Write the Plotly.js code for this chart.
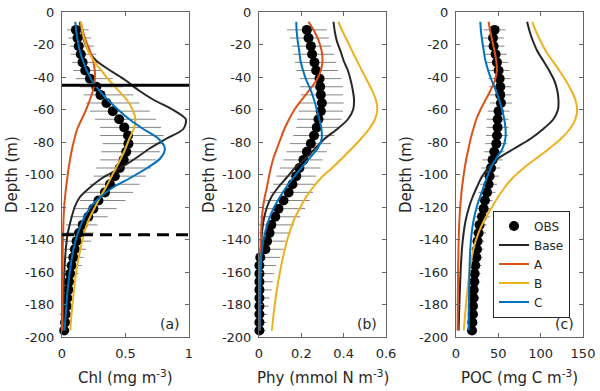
<!DOCTYPE html>
<html><head><meta charset="utf-8">
<script src="https://cdn.plot.ly/plotly-3.0.1.min.js"></script>
<style>html,body{margin:0;padding:0;background:#fff}#chart{width:600px;height:391px}</style>
</head><body><div id="chart"></div><script>
// ---------- data ----------
const obsDepth = [-11,-16,-21,-26,-31,-36,-41,-46,-51,-56,-61,-66,-71,-76,-81,-86,-91,-96,-101,-106,-111,-116,-121,-126,-131,-136,-141,-146,-151,-156,-161,-166,-171,-176,-181,-186,-191,-196];

const chlObs = [0.11,0.122,0.132,0.148,0.162,0.183,0.22,0.27,0.303,0.35,0.40,0.45,0.49,0.52,0.523,0.506,0.486,0.455,0.416,0.378,0.338,0.287,0.247,0.207,0.163,0.134,0.115,0.101,0.089,0.076,0.064,0.055,0.05,0.042,0.037,0.029,0.024,0.017];
const chlLo = [0.04,0.05,0.06,0.07,0.08,0.09,0.11,0.14,0.17,0.19,0.22,0.26,0.30,0.30,0.32,0.31,0.30,0.27,0.25,0.22,0.18,0.14,0.09,0.065,0.03,0.02,0.01,0.005,0.005,0.005,0.005,0.005,0.005,0.005,0.005,0.005,0.005,0.003];
const chlHi = [0.21,0.23,0.25,0.27,0.29,0.32,0.40,0.48,0.56,0.61,0.69,0.74,0.78,0.80,0.80,0.77,0.74,0.70,0.66,0.61,0.56,0.50,0.43,0.36,0.28,0.25,0.23,0.19,0.17,0.155,0.13,0.10,0.09,0.076,0.063,0.05,0.04,0.03];

const phyObs = [0.226,0.234,0.245,0.251,0.262,0.27,0.286,0.289,0.292,0.297,0.292,0.281,0.273,0.26,0.245,0.226,0.21,0.191,0.176,0.158,0.14,0.116,0.092,0.077,0.058,0.05,0.038,0.03,0.006,0.002,0.002,0.002,0.002,0.002,0.002,0.002,0.002,0.002];
const phyLo = [0.132,0.146,0.155,0.163,0.17,0.176,0.193,0.193,0.198,0.187,0.187,0.18,0.176,0.163,0.146,0.13,0.115,0.098,0.083,0.068,0.052,0.03,0.014,0.006,0,0,0,0,0,0,0,0,0,0,0,0,0,0];
const phyHi = [0.32,0.33,0.34,0.355,0.365,0.374,0.39,0.397,0.397,0.40,0.397,0.39,0.374,0.355,0.34,0.32,0.30,0.29,0.27,0.262,0.255,0.24,0.218,0.195,0.165,0.15,0.126,0.115,0.10,0.08,0.07,0.065,0.06,0.05,0.045,0.04,0.035,0.03];

const pocObs = [45.6,43.7,44.4,46.8,48.4,50.3,51.5,52.3,52.3,53.1,50.3,49.1,49.1,48.4,47.6,45.2,43.2,41.3,39.7,38.5,36.6,34.2,32.6,30.7,27.9,26.7,25.5,24.8,24,22.8,22,21.6,20.8,20.8,20,20,19.3,18.9];
const pocErr = [13,13,13,13,13,13,13,13,13,13,13,13,13,13,13,12,12,11,11,10,10,9,9,9,8.5,8.5,8,8,7.5,7.5,7,7,6.5,6.5,6,6,6,6];

const modelDepth = [-6,-12,-18,-24,-30,-36,-42,-48,-54,-60,-66,-72,-78,-84,-90,-96,-102,-108,-114,-120,-128,-136,-146,-158,-172,-186,-196];

const chlBase = [0.14,0.152,0.175,0.21,0.27,0.38,0.50,0.60,0.72,0.87,0.975,0.955,0.82,0.69,0.58,0.46,0.32,0.22,0.14,0.10,0.07,0.046,0.03,0.02,0.014,0.011,0.01];
const chlA = [0.145,0.165,0.19,0.22,0.245,0.258,0.258,0.245,0.22,0.19,0.155,0.12,0.098,0.08,0.065,0.052,0.042,0.032,0.024,0.017,0.012,0.009,0.006,0.005,0.004,0.003,0.003];
const chlB = [0.15,0.16,0.18,0.205,0.25,0.31,0.37,0.44,0.51,0.555,0.578,0.565,0.53,0.50,0.465,0.425,0.385,0.345,0.30,0.26,0.21,0.175,0.145,0.115,0.093,0.075,0.065];
const chlC = [0.105,0.112,0.125,0.14,0.165,0.195,0.235,0.29,0.36,0.44,0.53,0.64,0.76,0.81,0.775,0.67,0.54,0.40,0.30,0.225,0.165,0.125,0.09,0.065,0.043,0.03,0.02];

const phyBase = [0.352,0.358,0.368,0.385,0.40,0.42,0.433,0.443,0.449,0.445,0.42,0.37,0.31,0.265,0.22,0.17,0.13,0.09,0.058,0.038,0.022,0.014,0.008,0.004,0.002,0.001,0.001];
const phyA = [0.234,0.262,0.283,0.296,0.30,0.292,0.272,0.238,0.202,0.168,0.142,0.12,0.102,0.085,0.068,0.056,0.046,0.037,0.027,0.019,0.013,0.01,0.007,0.005,0.004,0.003,0.003];
const phyB = [0.375,0.395,0.418,0.44,0.463,0.486,0.51,0.533,0.552,0.559,0.548,0.52,0.482,0.438,0.393,0.345,0.294,0.255,0.222,0.196,0.165,0.143,0.122,0.102,0.083,0.069,0.061];
const phyC = [0.176,0.178,0.183,0.19,0.196,0.208,0.224,0.244,0.26,0.273,0.285,0.295,0.296,0.277,0.238,0.2,0.162,0.128,0.098,0.072,0.046,0.028,0.014,0.008,0.005,0.004,0.003];

const pocBase = [84,87,91,96,103,110,116,119.5,121,120.5,115,103,88,69,50,38,30,24.5,19.5,15.5,11.5,9,7,5.6,4.5,3.6,3.1];
const pocA = [38.5,40.5,43,45.5,47.5,48.3,46,41,35,29,24,20.5,17.3,14.8,12.3,10.3,8.6,7.1,6,5,4,3.4,2.9,2.5,2.2,2,1.9];
const pocB = [90,94.5,100,106,114,122,129.5,136,141,143,141,134.5,124,110,95,80,67,57.5,49.5,42.5,33.5,26.5,20.5,16.5,13.3,10.8,9.2];
const pocC = [28.7,29.5,31,32.8,34.8,38,42,46.8,51,54.3,57,58.5,58.3,55,47.5,41,36.5,32.3,28.3,24.5,20.8,18.5,16.8,16,15.4,15,14.9];

const solidRefDepth = [-45, -45];
const dashedRefDepth = [-137, -137];

const seriesNames = ['Base', 'A', 'B', 'C'];
const obsName = 'OBS';

const chlRange = [0, 1], phyRange = [0, 0.6], pocRange = [0, 150];
const chlTicks = [0, 0.5, 1], chlTickText = ['0', '0.5', '1'];
const phyTicks = [0, 0.2, 0.4, 0.6], phyTickText = ['0', '0.2', '0.4', '0.6'];
const pocTicks = [0, 50, 100, 150], pocTickText = ['0', '50', '100', '150'];
const depthTicks = [-200,-180,-160,-140,-120,-100,-80,-60,-40,-20,0];
const depthTickText = ['-200','-180','-160','-140','-120','-100','-80','-60','-40','-20','0'];

const xTitles = ['Chl (mg m<sup>-3</sup>)', 'Phy (mmol N m<sup>-3</sup>)', 'POC (mg C m<sup>-3</sup>)'];
const yTitle = 'Depth (m)';
const panelTags = ['(a)', '(b)', '(c)'];

// ---------- style ----------
const colors = ['#262626', '#D95319', '#EDB120', '#0072BD'];
const txt = '#262626';
const FONT = 'DejaVu Sans, Arial, sans-serif';

const traces = [];
function addPanel(xa, ya, obs, plus, minus, models, first) {
  traces.push({
    type: 'scatter', mode: 'markers', x: obs, y: obsDepth, xaxis: xa, yaxis: ya,
    name: obsName, showlegend: first, legendgroup: 'obs', cliponaxis: false,
    marker: {color: '#000', size: 10},
    error_x: {type: 'data', symmetric: false, array: plus, arrayminus: minus,
              color: '#858585', thickness: 1, width: 0}
  });
  models.forEach((m, i) => {
    traces.push({
      type: 'scatter', mode: 'lines', x: m, y: modelDepth, xaxis: xa, yaxis: ya,
      name: seriesNames[i], showlegend: first, legendgroup: seriesNames[i], cliponaxis: false,
      line: {color: colors[i], width: 2, shape: 'spline', smoothing: 0.8}
    });
  });
}
const chlPlus = chlHi.map((h, i) => h - chlObs[i]);
const chlMinus = chlLo.map((l, i) => chlObs[i] - l);
const phyPlus = phyHi.map((h, i) => h - phyObs[i]);
const phyMinus = phyLo.map((l, i) => phyObs[i] - l);

addPanel('x', 'y', chlObs, chlPlus, chlMinus, [chlBase, chlA, chlB, chlC], true);
addPanel('x2', 'y2', phyObs, phyPlus, phyMinus, [phyBase, phyA, phyB, phyC], false);
addPanel('x3', 'y3', pocObs, pocErr, pocErr, [pocBase, pocA, pocB, pocC], false);

traces.push({type: 'scatter', mode: 'lines', x: chlRange, y: solidRefDepth, xaxis: 'x', yaxis: 'y',
  showlegend: false, hoverinfo: 'skip', line: {color: '#000', width: 3}});
traces.push({type: 'scatter', mode: 'lines', x: chlRange, y: dashedRefDepth, xaxis: 'x', yaxis: 'y',
  showlegend: false, hoverinfo: 'skip', line: {color: '#000', width: 3, dash: '12px,7px'}});

const W = 600, H = 391;
const xDom = [[62/W, 189/W], [259/W, 386/W], [456/W, 583/W]];
const yDom = [(H-337)/H, (H-12)/H];

function xAxis(dom, range, tv, tt, anchor) {
  return {domain: dom, range: range, tickvals: tv, ticktext: tt, anchor: anchor,
    showline: true, mirror: 'allticks', linecolor: '#666', linewidth: 1,
    ticks: 'inside', ticklen: 4, tickcolor: '#666', showgrid: false, zeroline: false,
    tickfont: {family: FONT, size: 13, color: txt}, ticklabelstandoff: 4, fixedrange: true};
}
function yAxis(anchor) {
  return {domain: yDom, range: [-200, 0], tickvals: depthTicks, ticktext: depthTickText, anchor: anchor,
    showline: true, mirror: 'allticks', linecolor: '#666', linewidth: 1,
    ticks: 'inside', ticklen: 4, tickcolor: '#666', showgrid: false, zeroline: false,
    tickfont: {family: FONT, size: 13, color: txt}, ticklabelstandoff: 4, fixedrange: true};
}

const ann = [];
const centers = xDom.map(d => (d[0] + d[1]) / 2);
xTitles.forEach((t, i) => ann.push({text: t, xref: 'paper', yref: 'paper', x: centers[i], y: (H-377)/H,
  xanchor: 'center', yanchor: 'middle', showarrow: false, font: {family: FONT, size: 15, color: txt}}));
[12, 209, 406].forEach(px => ann.push({text: yTitle, xref: 'paper', yref: 'paper', x: px/W, y: (H-175)/H,
  textangle: -90, xanchor: 'center', yanchor: 'middle', showarrow: false, font: {family: FONT, size: 15, color: txt}}));
panelTags.forEach((t, i) => ann.push({text: t, xref: 'paper', yref: 'paper', x: xDom[i][1] - 7/W, y: (H-324)/H,
  xanchor: 'right', yanchor: 'middle', showarrow: false, font: {family: FONT, size: 14, color: txt}}));

const layout = {
  width: W, height: H, autosize: false, margin: {l: 0, r: 0, t: 0, b: 0},
  paper_bgcolor: '#fff', plot_bgcolor: '#fff', font: {family: FONT, color: txt},
  xaxis: xAxis(xDom[0], chlRange, chlTicks, chlTickText, 'y'),
  xaxis2: xAxis(xDom[1], phyRange, phyTicks, phyTickText, 'y2'),
  xaxis3: xAxis(xDom[2], pocRange, pocTicks, pocTickText, 'y3'),
  yaxis: yAxis('x'), yaxis2: yAxis('x2'), yaxis3: yAxis('x3'),
  showlegend: true,
  legend: {x: 493/W, y: (H-264)/H, xanchor: 'left', yanchor: 'middle', bgcolor: '#fff',
    bordercolor: '#262626', borderwidth: 1, font: {family: FONT, size: 12, color: txt},
    traceorder: 'normal', itemwidth: 30},
  annotations: ann
};

Plotly.newPlot('chart', traces, layout, {staticPlot: true, displayModeBar: false});
</script></body></html>
